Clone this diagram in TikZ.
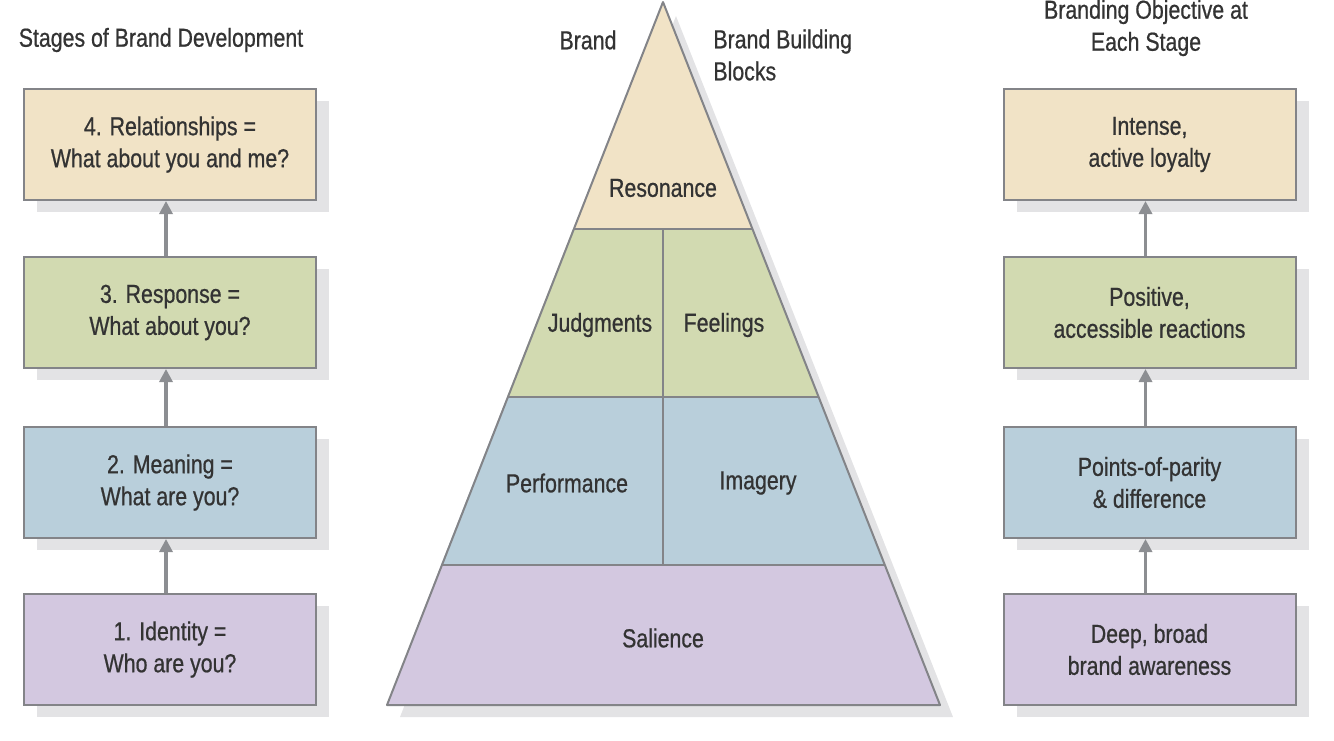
\documentclass[tikz,border=0pt]{standalone}
\usepackage{fontspec}
\setmainfont[FakeStretch=0.82,FakeBold=0.7]{Liberation Sans}
\usetikzlibrary{arrows.meta,shadows}
\definecolor{tan}{HTML}{F1E3C6}
\definecolor{grn}{HTML}{D2DAB1}
\definecolor{blu}{HTML}{B9CFDB}
\definecolor{pur}{HTML}{D3C8E0}
\definecolor{edge}{HTML}{838488}
\definecolor{shad}{HTML}{E3E3E5}
\definecolor{txt}{HTML}{333333}
\definecolor{arrg}{HTML}{8C8E92}
\tikzset{
  stagebox/.style={draw=edge, line width=1pt, minimum width=146pt, minimum height=55.5pt,
    align=center, text=txt, font=\fontsize{13}{16}\selectfont,
    drop shadow={shadow xshift=6.5pt, shadow yshift=-6pt, fill=shad, opacity=1}},
  lbl/.style={text=txt, font=\fontsize{13}{16}\selectfont, align=center, inner sep=0pt},
  arr/.style={draw=arrg, line width=1.6pt, -{Triangle[length=6.5pt,width=6.5pt]}},
  pyr/.style={draw=edge, line width=1pt, line join=round}
}
\begin{document}
\begin{tikzpicture}[x=0.5pt,y=-0.5pt]
\useasboundingbox (0,0) rectangle (1334,740);
% headings
\node[lbl] (h1) at (161,40) {Stages of Brand Development};
\node[lbl] (h2) at (588,40) {Brand};
\node[lbl, align=left, anchor=west] (h3) at (713,55) {Brand Building\\Blocks};
\node[lbl] (h4) at (1146,28) {Branding Objective at\\Each Stage};
% left boxes
\node[stagebox, fill=tan] (l4) at (170,144.5) {4. Relationships =\\What about you and me?};
\node[stagebox, fill=grn] (l3) at (170,312.5) {3. Response =\\What about you?};
\node[stagebox, fill=blu] (l2) at (170,482.5) {2. Meaning =\\What are you?};
\node[stagebox, fill=pur] (l1) at (170,649.5) {1. Identity =\\Who are you?};
% right boxes
\node[stagebox, fill=tan] (r4) at (1149.5,144.5) {Intense,\\active loyalty};
\node[stagebox, fill=grn] (r3) at (1149.5,312.5) {Positive,\\accessible reactions};
\node[stagebox, fill=blu] (r2) at (1149.5,482.5) {Points-of-parity\\\& difference};
\node[stagebox, fill=pur] (r1) at (1149.5,649.5) {Deep, broad\\brand awareness};
% arrows
\draw[arr] ([xshift=-2pt]l1.north) -- ([xshift=-2pt]l2.south);
\draw[arr] ([xshift=-2pt]l2.north) -- ([xshift=-2pt]l3.south);
\draw[arr] ([xshift=-2pt]l3.north) -- ([xshift=-2pt]l4.south);
\draw[arr] ([xshift=-2pt]r1.north) -- ([xshift=-2pt]r2.south);
\draw[arr] ([xshift=-2pt]r2.north) -- ([xshift=-2pt]r3.south);
\draw[arr] ([xshift=-2pt]r3.north) -- ([xshift=-2pt]r4.south);
% pyramid shadow
\fill[shad] (676,16) -- (953,717) -- (400,717) -- cycle;
% pyramid layers
\fill[pur] (441,565) -- (885,565) -- (940,705) -- (387,705) -- cycle;
\fill[blu] (507,397) -- (819,397) -- (885,565) -- (441,565) -- cycle;
\fill[grn] (573,229) -- (753,229) -- (819,397) -- (507,397) -- cycle;
\fill[tan] (663,2) -- (753,229) -- (573,229) -- cycle;
\draw[pyr] (663,2) -- (940,705) -- (387,705) -- cycle;
\draw[pyr] (573,229) -- (753,229);
\draw[pyr] (507,397) -- (819,397);
\draw[pyr] (441,565) -- (885,565);
\draw[pyr] (663,229) -- (663,565);
% pyramid labels
\node[lbl] (res) at (663,188) {Resonance};
\node[lbl] (jud) at (600,325) {Judgments};
\node[lbl] (fee) at (724,325) {Feelings};
\node[lbl] (per) at (567,483) {Performance};
\node[lbl] (ima) at (758,483) {Imagery};
\node[lbl] (sal) at (663,638) {Salience};
\end{tikzpicture}
\end{document}
